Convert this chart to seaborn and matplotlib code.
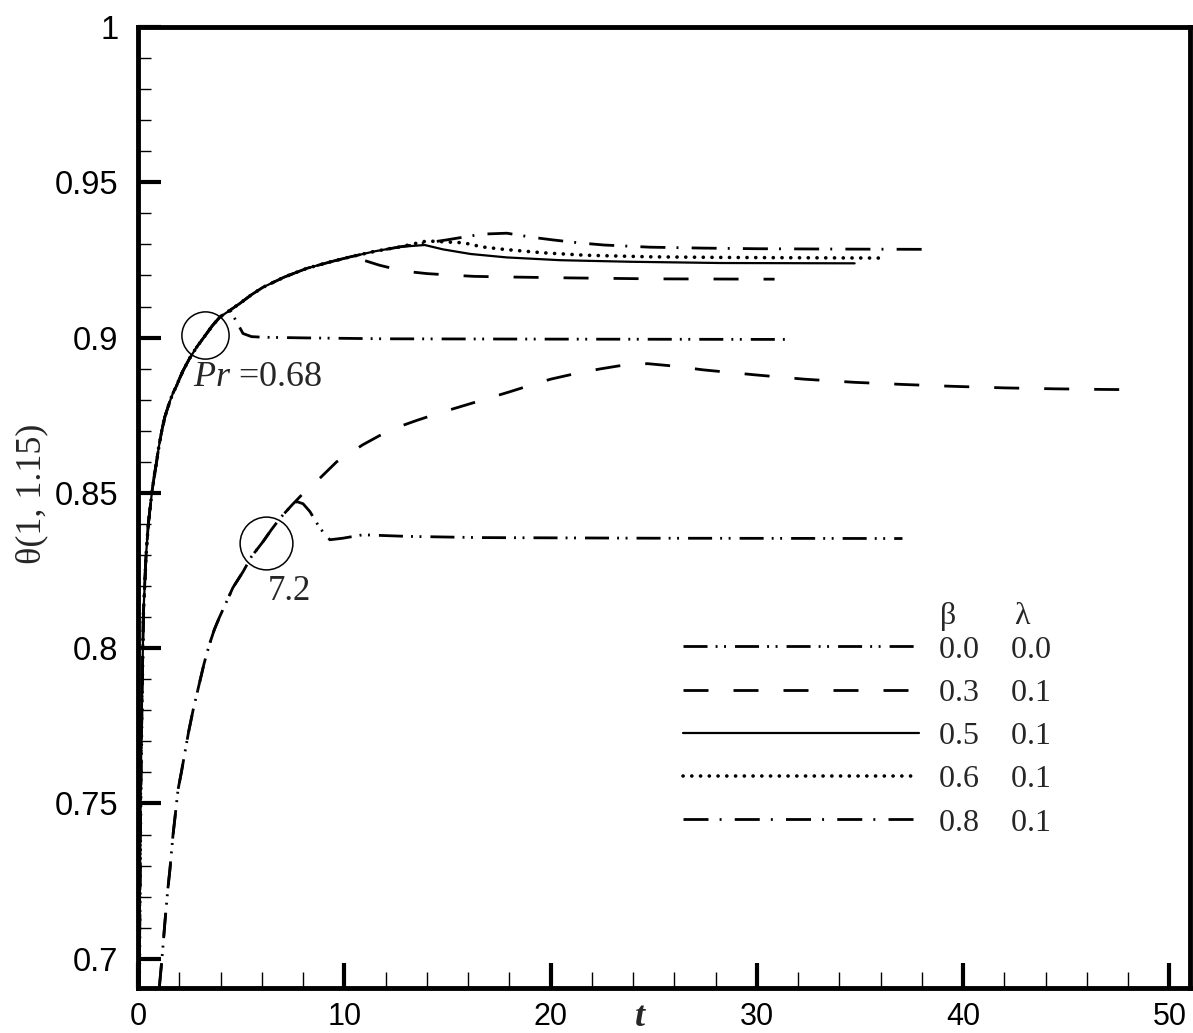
import matplotlib
matplotlib.use("Agg")
import matplotlib.pyplot as plt
import pandas as pd
import seaborn as sns
from matplotlib.lines import Line2D
from matplotlib.ticker import FixedLocator, FuncFormatter, MultipleLocator

# Pr = 0.68: shared rise, before the curves split
PR068_T = [0.06, 0.10, 0.14, 0.19, 0.26, 0.39, 0.50, 0.60, 0.68, 0.80, 0.90, 1.00,
           1.15, 1.30, 1.55, 1.70, 1.87, 2.00, 2.18, 2.50, 2.84, 3.25, 3.60, 3.97,
           4.46]
PR068_THETA = [0.690, 0.730, 0.760, 0.782, 0.811, 0.830, 0.840, 0.846, 0.8505, 0.856,
               0.860, 0.8645, 0.870, 0.8745, 0.8796, 0.8822, 0.8845, 0.8866, 0.8893,
               0.8933, 0.8969, 0.9006, 0.9038, 0.9066, 0.9088]
PR068_LATE_T = [4.94, 5.50, 6.06, 7.10, 8.19, 9.40, 10.30, 11.50, 12.70]
PR068_LATE_THETA = [0.9110, 0.9138, 0.9162, 0.9195, 0.9223, 0.9245, 0.9260, 0.9278,
                    0.9292]

# Pr = 0.68 branches
B00_LOW_T = [4.70, 5.09, 5.50, 6.06, 8.0, 12.0, 20.0, 31.6]
B00_LOW_THETA = [0.9060, 0.9013, 0.9003, 0.9001, 0.8999, 0.8996, 0.8995, 0.8994]
B03_LOW_T = [10.6, 11.7, 12.87, 14.0, 15.2, 16.3, 18.0, 21.0, 25.0, 30.86]
B03_LOW_THETA = [0.9256, 0.9233, 0.9214, 0.9206, 0.9201, 0.9197, 0.9195, 0.9192,
                 0.9189, 0.9188]
B05_LOW_T = [13.9, 14.78, 16.13, 17.88, 20.5, 23.9, 28.25, 34.74]
B05_LOW_THETA = [0.9298, 0.9284, 0.9269, 0.9258, 0.9249, 0.9244, 0.9240, 0.9239]
B06_LOW_T = [14.0, 15.79, 16.67, 17.73, 19.62, 21.7, 24.8, 28.25, 31.7, 35.95]
B06_LOW_THETA = [0.9311, 0.9305, 0.9292, 0.9284, 0.9273, 0.9265, 0.9260, 0.9258,
                 0.9257, 0.9256]
B08_LOW_T = [14.92, 16.67, 17.88, 19.09, 20.16, 21.37, 22.58, 24.81, 27.42, 29.99,
             33.48, 38.28]
B08_LOW_THETA = [0.9314, 0.9333, 0.9336, 0.9323, 0.9314, 0.9305, 0.9298, 0.9291,
                 0.9288, 0.9286, 0.9285, 0.9284]

# Pr = 7.2: shared rise
PR72_T = [1.03, 1.16, 1.30, 1.44, 1.55, 1.69, 1.80, 1.94, 2.10, 2.27, 2.45, 2.68,
          2.95, 3.20, 3.45, 3.70, 3.95, 4.22, 4.60, 5.09, 5.50, 6.06, 6.45, 6.88,
          7.45]
PR72_THETA = [0.6906, 0.700, 0.7115, 0.7221, 0.7290, 0.7395, 0.7460, 0.7545, 0.7600,
              0.7663, 0.7730, 0.7804, 0.7880, 0.7950, 0.8010, 0.8060, 0.8100, 0.8139,
              0.8195, 0.8246, 0.8295, 0.8343, 0.8380, 0.8418, 0.8460]

# Pr = 7.2 branches
B00_HIGH_T = [7.69, 8.00, 8.33, 8.82, 9.30, 9.93, 10.9, 13.0, 16.57, 25.0, 37.06]
B00_HIGH_THETA = [0.8472, 0.8465, 0.8440, 0.8386, 0.8349, 0.8354, 0.8365, 0.8360,
                  0.8356, 0.8354, 0.8353]
B03_HIGH_T = [8.0, 8.66, 9.63, 10.9, 11.7, 12.53, 13.5, 14.6, 15.75, 17.0, 18.0, 19.0,
              20.0, 21.2, 22.4, 23.6, 24.7, 26.0, 27.4, 29.9, 32.3, 34.7, 37.1, 39.5,
              42.0, 44.4, 46.8, 48.7]
B03_HIGH_THETA = [0.8498, 0.8537, 0.8600, 0.8655, 0.8684, 0.8710, 0.8733, 0.8757,
                  0.8780, 0.8805, 0.8825, 0.8846, 0.8866, 0.8884, 0.8899, 0.8912,
                  0.8916, 0.8908, 0.8896, 0.8880, 0.8866, 0.8856, 0.8849, 0.8843,
                  0.8838, 0.8835, 0.8833, 0.8832]

BETAS = ["0.0", "0.3", "0.5", "0.6", "0.8"]
LAMBDAS = ["0.0", "0.1", "0.1", "0.1", "0.1"]

X_TICKS = [0, 10, 20, 30, 40, 50]
Y_TICKS = [0.7, 0.75, 0.8, 0.85, 0.9, 0.95, 1.0]

# marked points and their labels
CIRCLE_T = [3.25, 6.2]
CIRCLE_THETA = [0.9007, 0.8338]
CIRCLE_SIZES = [34, 38]

SERIF = ["Liberation Serif", "DejaVu Serif"]

STYLES = {
    "0.0": dict(linestyle=(0, (17.3, 5.8, 1.4, 4.7, 1.4, 6.5)), lw=2.0),
    "0.3": dict(linestyle=(0, (18, 18)), lw=2.0),
    "0.5": dict(linestyle="-", lw=1.6),
    "0.6": dict(linestyle=(0, (0.1, 6.2)), lw=2.6, dash_capstyle="round"),
    "0.8": dict(linestyle=(0, (18, 8, 1.4, 9.5)), lw=2.0),
}


def curve(t_parts, theta_parts):
    t = [v for part in t_parts for v in part]
    theta = [v for part in theta_parts for v in part]
    return pd.DataFrame({"t": t, "theta": theta})


def main() -> None:
    sns.set_style("ticks")
    plt.rcParams["font.family"] = ["Liberation Sans", "DejaVu Sans"]
    plt.rcParams["lines.scale_dashes"] = False
    plt.rcParams["mathtext.fontset"] = "custom"
    plt.rcParams["mathtext.it"] = "Liberation Serif:italic"
    plt.rcParams["mathtext.rm"] = "Liberation Serif"

    fig = plt.figure(figsize=(11.93, 10.33), dpi=100)
    ax = fig.add_axes([0.1157, 0.0436, 0.8818, 0.9303])

    low = (PR068_T, PR068_THETA)
    late = (PR068_LATE_T, PR068_LATE_THETA)
    curves = [
        ("0.0", curve([PR068_T, B00_LOW_T], [PR068_THETA, B00_LOW_THETA])),
        ("0.3", curve([PR068_T, PR068_LATE_T[:7], B03_LOW_T],
                      [PR068_THETA, PR068_LATE_THETA[:7], B03_LOW_THETA])),
        ("0.5", curve([low[0], late[0], B05_LOW_T], [low[1], late[1], B05_LOW_THETA])),
        ("0.6", curve([low[0], late[0], B06_LOW_T], [low[1], late[1], B06_LOW_THETA])),
        ("0.8", curve([low[0], late[0], B08_LOW_T], [low[1], late[1], B08_LOW_THETA])),
        ("0.0", curve([PR72_T, B00_HIGH_T], [PR72_THETA, B00_HIGH_THETA])),
        ("0.3", curve([PR72_T, B03_HIGH_T], [PR72_THETA, B03_HIGH_THETA])),
    ]
    for beta, df in curves:
        sns.lineplot(data=df, x="t", y="theta", estimator=None, sort=False,
                     color="black", ax=ax, legend=False, **STYLES[beta])

    for t, th, size in zip(CIRCLE_T, CIRCLE_THETA, CIRCLE_SIZES):
        ax.plot([t], [th], marker="o", ms=size, mfc="none", mec="black",
                mew=1.1, ls="none")

    ax.text(2.66, 0.887, r"$Pr$ =0.68", fontsize=26, ha="left", va="center",
            family=SERIF)
    ax.text(6.3, 0.8181, "7.2", fontsize=25, ha="left", va="center", family=SERIF)

    ax.set_xlim(0, 51)
    ax.set_ylim(0.6906, 1.0)
    ax.xaxis.set_major_locator(FixedLocator(X_TICKS))
    ax.yaxis.set_major_locator(FixedLocator(Y_TICKS))
    ax.xaxis.set_minor_locator(MultipleLocator(2))
    ax.yaxis.set_minor_locator(MultipleLocator(0.01))
    ax.yaxis.set_major_formatter(FuncFormatter(lambda v, _: f"{round(v, 3):g}"))
    ax.xaxis.set_major_formatter(FuncFormatter(lambda v, _: f"{v:g}"))

    ax.tick_params(which="both", direction="in", top=False, right=False,
                   colors="black")
    ax.tick_params(axis="x", which="major", length=18, width=3, pad=10, labelsize=22)
    ax.tick_params(axis="x", which="minor", length=11.5, width=1)
    ax.tick_params(axis="y", which="major", length=16.5, width=3, pad=14,
                   labelsize=23.5)
    ax.tick_params(axis="y", which="minor", length=9.5, width=1)
    for spine in ax.spines.values():
        spine.set_linewidth(3.5)
        spine.set_color("black")

    ax.set_xlabel("")
    ax.set_ylabel("")
    ax.text(0.477, -0.014, "t", transform=ax.transAxes, ha="center", va="top",
            fontsize=26, fontweight="bold", fontstyle="italic", family=SERIF)
    ax.text(-0.1008, 0.514, "θ(1, 1.15)", transform=ax.transAxes, ha="center",
            va="center", rotation=90, fontsize=26, family=SERIF)

    handles = [Line2D([], [], color="black", **STYLES[b]) for b in BETAS]
    labels = [f"{b}    {l}" for b, l in zip(BETAS, LAMBDAS)]
    ax.legend(handles, labels, loc="upper left", bbox_to_anchor=(0.518, 0.3670),
              frameon=False, borderpad=0, borderaxespad=0, handlelength=7.39,
              handletextpad=0.64, labelspacing=0.435,
              prop={"family": SERIF, "size": 23})
    ax.text(0.770, 0.387, "β", transform=ax.transAxes, ha="center", va="center",
            fontsize=23, family=SERIF)
    ax.text(0.840, 0.387, "λ", transform=ax.transAxes, ha="center", va="center",
            fontsize=23, family=SERIF)

    fig.savefig("out.png", dpi=100)
    plt.close(fig)


if __name__ == "__main__":
    main()
